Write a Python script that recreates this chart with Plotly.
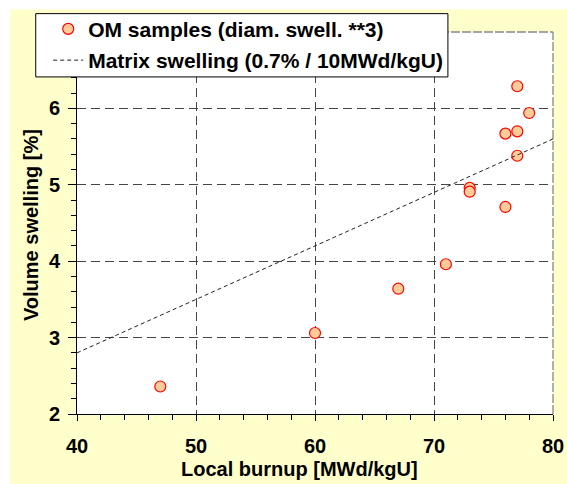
import plotly.graph_objects as go

# Data
burnup = [47, 60, 67, 71, 73, 73, 76, 76, 77, 77, 77, 78]
swelling = [2.36, 3.06, 3.64, 3.96, 4.96, 4.91, 4.71, 5.67, 5.70, 5.38, 6.29, 5.94]

matrix_x = [40, 80]
matrix_slope = 0.07  # 0.7% per 10 MWd/kgU
matrix_y = [matrix_slope * v for v in matrix_x]

x_ticks = [40, 50, 60, 70, 80]
y_ticks = [2, 3, 4, 5, 6]

FONT = "Arial, Liberation Sans, sans-serif"
W, H = 567, 484
L, R, T, B = 77, 13.5, 31.7, 69.7
pw, ph = W - L - R, H - T - B

def px_x(p):
    return (p - L) / pw

def px_y(p):
    return (H - B - p) / ph

fig = go.Figure()
fig.add_trace(go.Scatter(
    x=burnup, y=swelling, mode="markers",
    name="<b>OM samples (diam. swell. **3)</b>", legendgroup="a",
    marker=dict(symbol="circle", size=11, color="#FFCC99",
                line=dict(color="#FF0000", width=1.2)),
))
fig.add_trace(go.Scatter(
    x=matrix_x, y=matrix_y, mode="lines",
    name="<b>Matrix swelling (0.7% / 10MWd/kgU)</b>", legendgroup="b",
    line=dict(color="#222222", width=1, dash="4px,3px"),
))

fig.update_layout(
    width=W, height=H,
    margin=dict(l=L, r=R, t=T, b=B, pad=0, autoexpand=False),
    paper_bgcolor="#FFFFCC",
    plot_bgcolor="white",
    font=dict(family=FONT, size=20, color="black"),
    showlegend=True,
    legend=dict(
        xref="container", yref="container",
        x=48.2 / W, y=1 - 8.7 / H, xanchor="left", yanchor="top",
        bgcolor="rgba(0,0,0,0)", borderwidth=0,
        font=dict(family=FONT, size=21, color="black"),
        tracegroupgap=1,
    ),
    shapes=[
        # white outer strips (top and left) around the yellow panel
        dict(type="rect", xref="paper", yref="paper",
             x0=px_x(-5), x1=px_x(W + 5), y0=px_y(9), y1=px_y(-5),
             fillcolor="white", line=dict(width=0), layer="above"),
        dict(type="rect", xref="paper", yref="paper",
             x0=px_x(-5), x1=px_x(10), y0=px_y(H + 5), y1=px_y(-5),
             fillcolor="white", line=dict(width=0), layer="above"),
        # legend box
        dict(type="rect", xref="paper", yref="paper",
             x0=px_x(35.7), x1=px_x(448.3), y0=px_y(76.7), y1=px_y(13.3),
             fillcolor="white", line=dict(width=1, color="black"), layer="above"),
    ],
    annotations=[
        dict(text="<b>Local burnup [MWd/kgU]</b>", xref="paper", yref="paper",
             x=px_x(179.3), y=px_y(469), xanchor="left", yanchor="middle",
             showarrow=False, font=dict(family=FONT, size=20, color="black")),
        dict(text="<b>Volume swelling [%]</b>", xref="paper", yref="paper",
             x=px_x(31), y=px_y(225), xanchor="center", yanchor="middle",
             textangle=-90, showarrow=False,
             font=dict(family=FONT, size=20, color="black")),
    ],
)

fig.update_xaxes(
    range=[40, 80], tickvals=x_ticks, ticktext=[str(v) for v in x_ticks],
    ticks="outside", ticklen=6, tickwidth=1, tickcolor="black",
    ticklabelstandoff=8,
    showline=True, linecolor="black", linewidth=1,
    showgrid=True, gridcolor="#444444", gridwidth=1.3, griddash="9px,5px",
    tickfont=dict(family=FONT, size=20, color="black", weight="bold"),
    minor=dict(dtick=2, tick0=40, ticks="outside", ticklen=5, tickwidth=1,
               tickcolor="black", showgrid=False),
    zeroline=False, automargin=False,
)
fig.update_yaxes(
    range=[2, 7], tickvals=y_ticks, ticktext=[str(v) for v in y_ticks],
    ticks="outside", ticklen=8, tickwidth=1, tickcolor="black",
    ticklabelstandoff=4,
    showline=True, linecolor="black", linewidth=1,
    showgrid=True, gridcolor="#444444", gridwidth=1.3, griddash="9px,5px",
    tickfont=dict(family=FONT, size=20, color="black", weight="bold"),
    minor=dict(dtick=0.2, tick0=2, ticks="outside", ticklen=5, tickwidth=1,
               tickcolor="black", showgrid=False),
    zeroline=False, automargin=False,
)

# gray frame on top and right (as in reference)
fig.add_shape(type="line", xref="paper", yref="paper", x0=0, x1=1, y0=1, y1=1,
              line=dict(color="#888888", width=1.3, dash="9px,2px"), layer="below")
fig.add_shape(type="line", xref="paper", yref="paper", x0=1, x1=1, y0=0, y1=1,
              line=dict(color="#888888", width=1.3, dash="9px,2px"), layer="below")

fig.write_html(
    "out.html",
    config={"displayModeBar": False},
    post_script="document.body.style.margin='0';document.body.style.overflow='hidden';",
)
